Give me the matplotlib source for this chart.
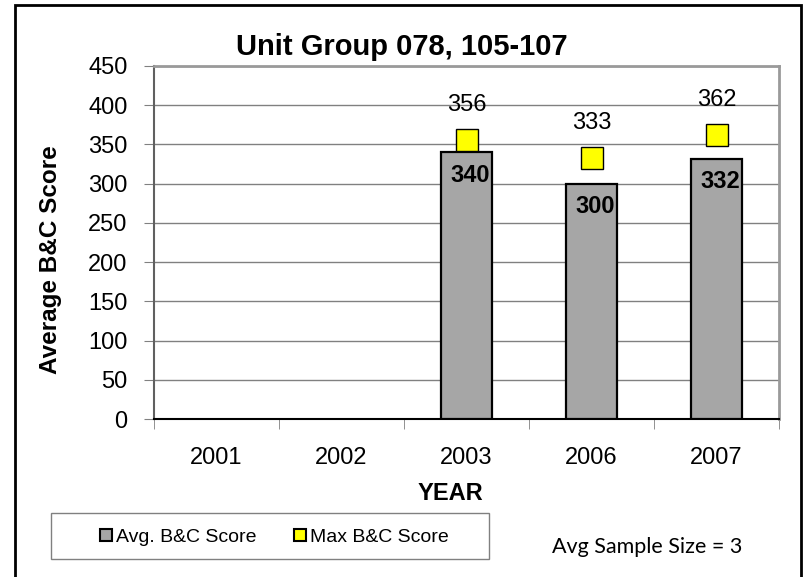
import matplotlib
matplotlib.use('Agg')
import matplotlib.pyplot as plt
import numpy as np
from matplotlib.patches import Rectangle
from matplotlib.lines import Line2D
from matplotlib import font_manager

# ---- data ----
years = ['2001', '2002', '2003', '2006', '2007']
avg_score = [np.nan, np.nan, 340, 300, 332]
max_score = [np.nan, np.nan, 356, 333, 362]
y_ticks = [0, 50, 100, 150, 200, 250, 300, 350, 400, 450]
title_text = 'Unit Group 078, 105-107'
ylabel_text = 'Average B&C Score'
xlabel_text = 'YEAR'
legend_labels = ['Avg. B&C Score', 'Max B&C Score']
sample_text = 'Avg Sample Size = 3'

W, H = 806, 577
plt.rcParams['font.family'] = ['Liberation Sans', 'DejaVu Sans']
fig = plt.figure(figsize=(W / 100, H / 100), dpi=100)


def fx(x):
    return x / W


def fy(y):
    return 1 - y / H


ax = fig.add_axes([fx(154), fy(419), 625 / W, 353 / H])
x = np.arange(len(years))
ax.bar(x, avg_score, width=0.41, color='#A6A6A6', edgecolor='black',
       linewidth=1.6, zorder=3)
ax.plot(x, max_score, 's', ms=15.6, mfc='#FFFF00', mec='black', mew=1,
        ls='none', zorder=4, clip_on=False)

for xi, v in zip(x, avg_score):
    if not np.isnan(v):
        ax.annotate(f'{v:.0f}', (xi, v), xytext=(3, -16.5),
                    textcoords='offset points', ha='center', va='center',
                    fontsize=17, fontweight='bold', zorder=5)
for xi, v in zip(x, max_score):
    if not np.isnan(v):
        ax.annotate(f'{v:.0f}', (xi, v), xytext=(0, 25),
                    textcoords='offset points', ha='center', va='center',
                    fontsize=17, zorder=5)

ax.set_xlim(-0.5, len(years) - 0.5)
ax.set_ylim(0, 450)
ax.set_yticks(y_ticks)
ax.yaxis.grid(True, color='#808080', lw=1)
ax.set_axisbelow(True)
ax.tick_params(axis='y', length=7, color='#808080', labelsize=17, pad=12)

ax.set_xticks(x)
ax.set_xticklabels(years)
ax.tick_params(axis='x', which='major', length=0, labelsize=17, pad=20)
ax.set_xticks(np.arange(-0.5, len(years), 1), minor=True)
ax.tick_params(axis='x', which='minor', length=7, color='#808080')

for s in ['top', 'right']:
    ax.spines[s].set_color('#9a9a9a')
    ax.spines[s].set_linewidth(2)
ax.spines['left'].set_color('#606060')
ax.spines['left'].set_linewidth(1.5)
ax.spines['bottom'].set_color('black')
ax.spines['bottom'].set_linewidth(1.5)

fig.text(fx(402), fy(47), title_text, ha='center', va='center',
         fontsize=21, fontweight='bold')
fig.text(fx(51), fy(260), ylabel_text, ha='center', va='center',
         rotation=90, fontsize=17.5, fontweight='bold')
fig.text(fx(450), fy(493), xlabel_text, ha='center', va='center',
         fontsize=17, fontweight='bold')

# legend
names = {f.name for f in font_manager.fontManager.ttflist}
if 'Liberation Sans Narrow' in names:
    leg_prop = {'family': 'Liberation Sans Narrow', 'size': 17}
else:
    leg_prop = {'family': 'Liberation Sans', 'size': 14}
handles = [
    Line2D([], [], marker='s', ls='none', ms=8.5, mfc='#A6A6A6', mec='black', mew=1.5),
    Line2D([], [], marker='s', ls='none', ms=8.5, mfc='#FFFF00', mec='black', mew=1.5),
]
fig.legend(handles, legend_labels, loc='center',
           bbox_to_anchor=(fx(274), fy(537)), ncol=2, frameon=False,
           handlelength=0.7, handletextpad=0.15, columnspacing=1.9,
           prop=leg_prop, borderaxespad=0)
fig.add_artist(Rectangle((fx(51), fy(559)), (489 - 51) / W, 46 / H,
                         transform=fig.transFigure, fill=False,
                         ec='#808080', lw=1))

fig.text(fx(552), fy(547), sample_text, ha='left', va='center',
         fontsize=15.5, family=['Lato', 'DejaVu Sans'])

# outer border
fig.add_artist(Rectangle((fx(15), fy(582)), (801 - 15) / W, 577 / H,
                         transform=fig.transFigure, fill=False,
                         ec='black', lw=2))

fig.savefig('out.png', dpi=100)
